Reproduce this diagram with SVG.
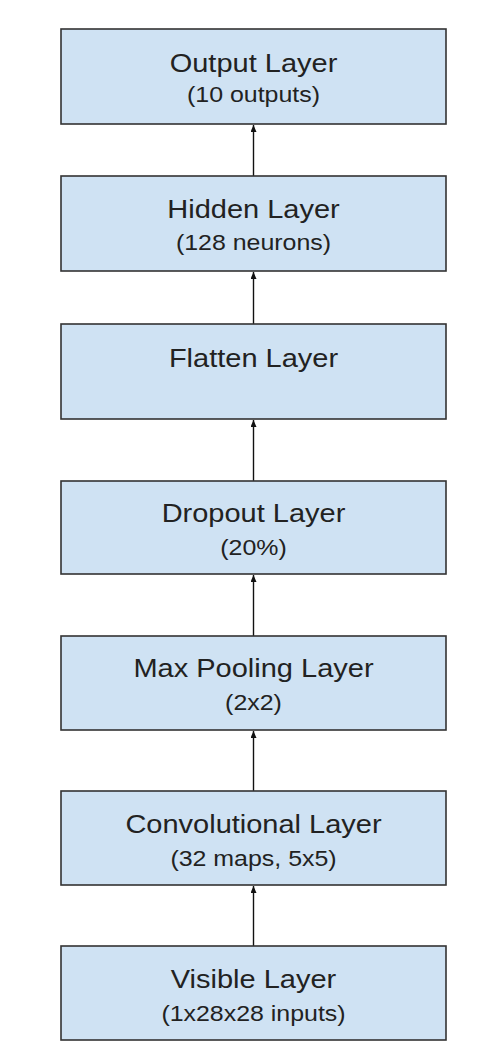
<svg xmlns="http://www.w3.org/2000/svg" width="478" height="1064" viewBox="0 0 478 1064">
<style>
.box{fill:#cfe2f3;stroke:#333;stroke-width:1.6}
.t{font-family:"Liberation Sans",Arial,sans-serif;fill:#222;text-anchor:middle}
.h{font-size:25px}
.s{font-size:21.5px}
.c{stroke:#111;stroke-width:1.4;fill:none}
</style>
<defs>
<marker id="ah" markerUnits="userSpaceOnUse" markerWidth="10" markerHeight="8" refX="7" refY="3" orient="auto">
<path d="M0,0 L7,3 L0,6 z" fill="#111"/>
</marker>
</defs>
<rect width="478" height="1064" fill="#fff"/>
<g id="connectors">
<line class="c" x1="253.5" y1="176" x2="253.5" y2="125" marker-end="url(#ah)"/>
<line class="c" x1="253.5" y1="324" x2="253.5" y2="272" marker-end="url(#ah)"/>
<line class="c" x1="253.5" y1="481" x2="253.5" y2="420" marker-end="url(#ah)"/>
<line class="c" x1="253.5" y1="636" x2="253.5" y2="575" marker-end="url(#ah)"/>
<line class="c" x1="253.5" y1="791" x2="253.5" y2="731" marker-end="url(#ah)"/>
<line class="c" x1="253.5" y1="946" x2="253.5" y2="886" marker-end="url(#ah)"/>
</g>
<g id="output">
<rect class="box" x="61" y="29" width="385" height="95"/>
<g transform="translate(253.5,0) scale(1.16,1)">
<text class="t h" x="0" y="72">Output Layer</text>
<text class="t s" x="0" y="102">(10 outputs)</text>
</g>
</g>
<g id="hidden">
<rect class="box" x="61" y="176" width="385" height="95"/>
<g transform="translate(253.5,0) scale(1.16,1)">
<text class="t h" x="0" y="218">Hidden Layer</text>
<text class="t s" x="0" y="250">(128 neurons)</text>
</g>
</g>
<g id="flatten">
<rect class="box" x="61" y="324" width="385" height="95"/>
<g transform="translate(253.5,0) scale(1.16,1)">
<text class="t h" x="0" y="367">Flatten Layer</text>
</g>
</g>
<g id="dropout">
<rect class="box" x="61" y="481" width="385" height="93"/>
<g transform="translate(253.5,0) scale(1.16,1)">
<text class="t h" x="0" y="522">Dropout Layer</text>
<text class="t s" x="0" y="555">(20%)</text>
</g>
</g>
<g id="maxpool">
<rect class="box" x="61" y="636" width="385" height="94"/>
<g transform="translate(253.5,0) scale(1.16,1)">
<text class="t h" x="0" y="677">Max Pooling Layer</text>
<text class="t s" x="0" y="710">(2x2)</text>
</g>
</g>
<g id="conv">
<rect class="box" x="61" y="791" width="385" height="94"/>
<g transform="translate(253.5,0) scale(1.16,1)">
<text class="t h" x="0" y="833">Convolutional Layer</text>
<text class="t s" x="0" y="866">(32 maps, 5x5)</text>
</g>
</g>
<g id="visible">
<rect class="box" x="61" y="946" width="385" height="94"/>
<g transform="translate(253.5,0) scale(1.16,1)">
<text class="t h" x="0" y="988">Visible Layer</text>
<text class="t s" x="0" y="1021">(1x28x28 inputs)</text>
</g>
</g>
</svg>
